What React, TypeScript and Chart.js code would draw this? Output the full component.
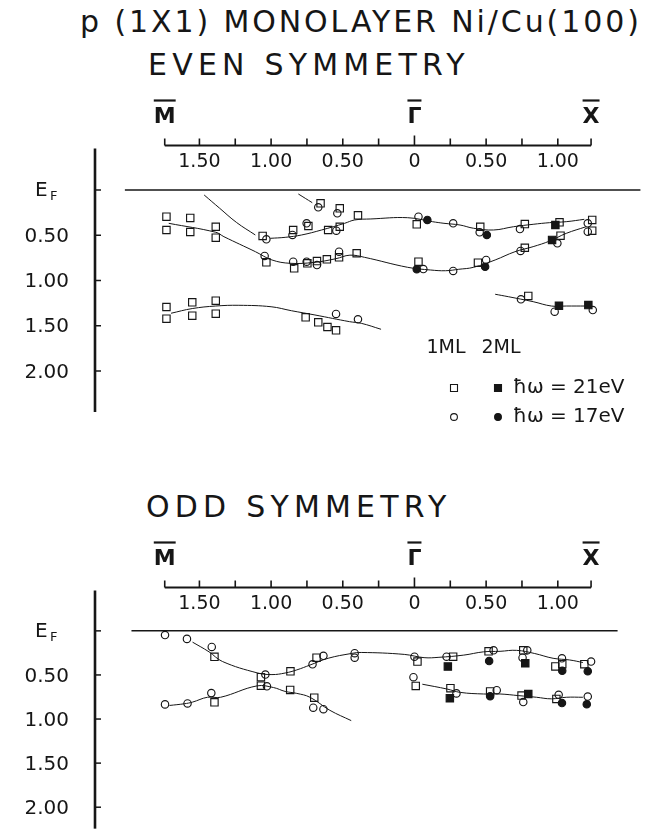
import React, { useEffect, useRef } from "react";
import { Chart, registerables } from "chart.js";

Chart.register(...registerables);

type Pt = [number, number];

// ---------- axes (k in 1/Å: negative toward M̄, positive toward X̄; E = binding energy below E_F, eV)
const K_MBAR = -1.742;
const K_XBAR = 1.232;
const K_TICKS = [-1.5, -1.25, -1.0, -0.75, -0.5, -0.25, 0, 0.25, 0.5, 0.75, 1.0];
const K_TICK_LABELS = [-1.5, -1.0, -0.5, 0, 0.5, 1.0];
const SYM_POINTS = [
  { k: K_MBAR, label: "M" },
  { k: 0, label: "Γ" },
  { k: K_XBAR, label: "X" },
];
const E_TICKS = [0, 0.5, 1.0, 1.5, 2.0];
const E_TICK_LABELS = ["E_F", "0.50", "1.00", "1.50", "2.00"];

const TITLE = "p (1X1) MONOLAYER Ni/Cu(100)";
const EVEN_TITLE = "EVEN SYMMETRY";
const ODD_TITLE = "ODD SYMMETRY";
const LEGEND_HEAD = ["1ML", "2ML"];
const LEGEND_ROWS = ["ħω = 21eV", "ħω = 17eV"];

// ---------- EVEN symmetry data  [k, E]
const EVEN_1ML_21: Pt[] = [
  [-1.73, 0.295], [-1.73, 0.442], [-1.564, 0.309], [-1.564, 0.464], [-1.386, 0.406], [-1.386, 0.527],
  [-1.059, 0.508], [-0.846, 0.442], [-0.74, 0.398], [-0.602, 0.442], [-0.521, 0.406], [-0.394, 0.28],
  [-0.655, 0.147], [-0.521, 0.202], [-1.033, 0.799], [-0.839, 0.865], [-0.747, 0.81], [-0.68, 0.785],
  [-0.611, 0.766], [-0.526, 0.744], [-0.403, 0.699], [-1.73, 1.293], [-1.73, 1.422], [-1.55, 1.241],
  [-1.55, 1.389], [-1.386, 1.223], [-1.386, 1.367], [-0.759, 1.407], [-0.671, 1.462], [-0.607, 1.514],
  [-0.547, 1.55], [0.016, 0.379], [0.459, 0.406], [0.77, 0.376], [1.012, 0.357], [1.24, 0.331],
  [1.24, 0.45], [0.028, 0.792], [0.443, 0.803], [0.77, 0.638], [1.019, 0.505], [0.794, 1.171],
];
const EVEN_1ML_17: Pt[] = [
  [-1.033, 0.545], [-0.851, 0.497], [-0.752, 0.368], [-0.545, 0.45], [-0.671, 0.191], [-0.538, 0.257],
  [-1.045, 0.729], [-0.846, 0.792], [-0.752, 0.792], [-0.68, 0.829], [-0.526, 0.682], [-0.547, 1.37],
  [-0.394, 1.429], [0.028, 0.295], [0.27, 0.368], [0.455, 0.467], [0.736, 0.431], [1.209, 0.368],
  [1.209, 0.461], [0.062, 0.873], [0.27, 0.895], [0.5, 0.773], [0.74, 0.674], [0.997, 0.589],
  [0.743, 1.208], [0.978, 1.345], [1.244, 1.326],
];
const EVEN_2ML_21: Pt[] = [[0.983, 0.387], [0.96, 0.552], [1.008, 1.278], [1.213, 1.271]];
const EVEN_2ML_17: Pt[] = [[0.09, 0.331], [0.505, 0.497], [0.016, 0.876], [0.493, 0.848]];

const EVEN_CURVES: Pt[][] = [
  [[-1.467, 0.055], [-1.36, 0.2], [-1.24, 0.36], [-1.11, 0.497]],
  [[-1.006, 0.534], [-0.902, 0.523], [-0.787, 0.497], [-0.648, 0.442], [-0.487, 0.368], [-0.417, 0.331],
   [-0.304, 0.32], [-0.048, 0.306], [0.125, 0.35], [0.206, 0.368], [0.318, 0.387], [0.413, 0.423],
   [0.552, 0.442], [0.69, 0.406], [0.828, 0.379], [0.943, 0.361], [1.059, 0.35], [1.185, 0.324]],
  [[-1.714, 0.368], [-1.386, 0.467], [-1.329, 0.516], [-1.109, 0.682], [-0.994, 0.773], [-0.867, 0.81],
   [-0.7, 0.8], [-0.55, 0.76], [-0.45, 0.72], [-0.348, 0.744], [-0.048, 0.854], [0.113, 0.884],
   [0.217, 0.892], [0.309, 0.876], [0.413, 0.854], [0.563, 0.773], [0.701, 0.682], [0.828, 0.626],
   [0.943, 0.564], [1.059, 0.479], [1.197, 0.406]],
  [[-0.81, 0.044], [-0.713, 0.14]],
  [[-1.698, 1.362], [-1.55, 1.31], [-1.386, 1.282], [-1.225, 1.274], [-1.0, 1.29], [-0.858, 1.334],
   [-0.694, 1.381], [-0.452, 1.455], [-0.371, 1.473], [-0.233, 1.539]],
  [[0.563, 1.152], [0.655, 1.179], [0.828, 1.234], [0.955, 1.282], [1.059, 1.282], [1.197, 1.282]],
];
const EVEN_EF: Pt[] = [[-2.02, 0], [1.578, 0]];

// ---------- ODD symmetry data  [k, E]
const ODD_1ML_21: Pt[] = [
  [-1.395, 0.294], [-1.071, 0.525], [-0.865, 0.459], [-0.683, 0.304], [-1.395, 0.811], [-1.071, 0.622],
  [-0.867, 0.67], [-0.699, 0.758], [0.021, 0.348], [0.27, 0.293], [0.517, 0.232], [0.759, 0.221],
  [0.983, 0.403], [1.031, 0.378], [1.185, 0.378], [0.009, 0.625], [0.251, 0.65], [0.528, 0.687],
  [0.747, 0.734], [0.99, 0.772],
];
const ODD_1ML_17: Pt[] = [
  [-1.74, 0.047], [-1.587, 0.091], [-1.414, 0.183], [-1.04, 0.496], [-0.711, 0.379], [-0.635, 0.283],
  [-0.417, 0.253], [-0.417, 0.304], [-1.74, 0.834], [-1.583, 0.823], [-1.417, 0.706], [-1.029, 0.629],
  [-0.706, 0.871], [-0.635, 0.889], [0.0, 0.293], [0.224, 0.293], [0.552, 0.221], [0.754, 0.304],
  [0.787, 0.221], [1.029, 0.311], [1.232, 0.348], [-0.007, 0.526], [0.293, 0.709], [0.574, 0.673],
  [0.759, 0.807], [1.006, 0.725], [1.209, 0.745],
];
const ODD_2ML_21: Pt[] = [[0.233, 0.404], [0.773, 0.368], [0.247, 0.764], [0.794, 0.716]];
const ODD_2ML_17: Pt[] = [[0.521, 0.342], [1.031, 0.452], [1.209, 0.458], [0.528, 0.742], [1.029, 0.819], [1.202, 0.833]];

const ODD_CURVES: Pt[][] = [
  [[-1.548, 0.128], [-1.433, 0.238], [-1.34, 0.347], [-1.098, 0.476], [-0.994, 0.496], [-0.902, 0.478],
   [-0.821, 0.443], [-0.729, 0.388], [-0.602, 0.311], [-0.441, 0.257], [-0.371, 0.245], [-0.071, 0.267],
   [0.067, 0.304], [0.171, 0.3], [0.344, 0.275], [0.482, 0.238], [0.597, 0.232], [0.713, 0.221],
   [0.839, 0.257], [0.967, 0.311], [1.082, 0.33], [1.175, 0.359]],
  [[-1.709, 0.846], [-1.606, 0.827], [-1.548, 0.808], [-1.444, 0.753], [-1.352, 0.753], [-1.098, 0.624],
   [-0.983, 0.643], [-0.902, 0.687], [-0.821, 0.709], [-0.729, 0.753], [-0.59, 0.901], [-0.441, 1.018]],
  [[0.055, 0.605], [0.228, 0.66], [0.32, 0.698], [0.482, 0.716], [0.597, 0.716], [0.724, 0.734],
   [0.851, 0.753], [0.955, 0.771], [1.059, 0.753], [1.175, 0.753]],
];
const ODD_EF: Pt[] = [[-1.974, 0], [1.417, 0]];

// ---------- styling / layout
const FONT = '"DejaVu Sans", sans-serif';
const INK = "#161616";
const W = 647;
const PAD_LEFT = 95;
const PAD_RIGHT = 2;
const PAD_TOP = 145.5;
const X_MIN = -2.2284;
const X_MAX = 1.5779;
const E_MIN = -0.4917;

const toXY = (d: Pt[]) => d.map(([x, y]) => ({ x, y }));

const markers = (d: Pt[], shape: "rect" | "circle", filled: boolean) => ({
  data: toXY(d),
  showLine: false,
  pointStyle: shape,
  pointRadius: shape === "rect" ? 5.2 : 3.7,
  pointBorderWidth: 1.15,
  pointBorderColor: INK,
  pointBackgroundColor: filled ? INK : "rgba(0,0,0,0)",
  borderColor: INK,
  order: 0,
});
const curve = (d: Pt[], width = 1, tension = 0.4) => ({
  data: toXY(d),
  showLine: true,
  pointRadius: 0,
  borderColor: INK,
  borderWidth: width,
  tension,
  fill: false,
  order: 5,
});

function drawMarker(ctx: CanvasRenderingContext2D, shape: string, filled: boolean, x: number, y: number) {
  ctx.beginPath();
  if (shape === "rect") ctx.rect(x - 3.5, y - 3.5, 7, 7);
  else ctx.arc(x, y, 3.4, 0, Math.PI * 2);
  if (filled) ctx.fill();
  ctx.stroke();
}

const framePlugin = {
  id: "frame",
  afterDatasetsDraw(chart: any, _a: any, opts: any) {
    const { ctx, chartArea: a, scales } = chart;
    const xs = scales.x;
    const ys = scales.y;
    ctx.save();
    ctx.strokeStyle = INK;
    ctx.fillStyle = INK;

    // k axis on top
    const yA = a.top;
    ctx.lineWidth = 2;
    ctx.beginPath();
    ctx.moveTo(xs.getPixelForValue(K_MBAR), yA);
    ctx.lineTo(xs.getPixelForValue(K_XBAR), yA);
    ctx.stroke();
    ctx.lineWidth = 1.6;
    [K_MBAR, ...K_TICKS, K_XBAR].forEach((k) => {
      const px = xs.getPixelForValue(k);
      const len = k === 0 ? 10 : 7;
      ctx.beginPath();
      ctx.moveTo(px, yA);
      ctx.lineTo(px, yA - len);
      ctx.stroke();
    });
    ctx.font = `19px ${FONT}`;
    ctx.textAlign = "center";
    ctx.textBaseline = "middle";
    K_TICK_LABELS.forEach((k) => {
      ctx.fillText(k === 0 ? "0" : Math.abs(k).toFixed(2), xs.getPixelForValue(k), yA + 17);
    });
    ctx.font = `bold 22px ${FONT}`;
    SYM_POINTS.forEach((p) => {
      const px = xs.getPixelForValue(p.k);
      const w = ctx.measureText(p.label).width;
      ctx.fillText(p.label, px, yA - 28);
      ctx.lineWidth = 2.2;
      ctx.beginPath();
      ctx.moveTo(px - w / 2, yA - 45);
      ctx.lineTo(px + w / 2, yA - 45);
      ctx.stroke();
    });

    // energy axis on the left
    const xA = a.left;
    ctx.lineWidth = 2.6;
    ctx.beginPath();
    ctx.moveTo(xA, yA + 3);
    ctx.lineTo(xA, a.bottom);
    ctx.stroke();
    ctx.lineWidth = 1.5;
    E_TICKS.forEach((e, i) => {
      const py = ys.getPixelForValue(e);
      ctx.beginPath();
      ctx.moveTo(xA, py);
      ctx.lineTo(xA + 6, py);
      ctx.stroke();
      const lab = E_TICK_LABELS[i];
      if (lab === "E_F") {
        ctx.font = `20px ${FONT}`;
        ctx.textAlign = "left";
        ctx.fillText("E", xA - 60, py + 1);
        ctx.font = `13px ${FONT}`;
        ctx.fillText("F", xA - 45, py + 7);
      } else {
        ctx.font = `20px ${FONT}`;
        ctx.textAlign = "right";
        ctx.fillText(lab, xA - 26, py + 1.5);
      }
    });

    // legend
    if (opts && opts.legend) {
      const L = opts.legend;
      ctx.font = `19px ${FONT}`;
      ctx.textAlign = "center";
      ctx.fillText(LEGEND_HEAD[0], L.c1, L.yHead);
      ctx.fillText(LEGEND_HEAD[1], L.c2, L.yHead);
      ctx.lineWidth = 1.1;
      const shapes = ["rect", "circle"];
      LEGEND_ROWS.forEach((t, i) => {
        const y = L.rows[i];
        drawMarker(ctx, shapes[i], false, L.m1, y);
        drawMarker(ctx, shapes[i], true, L.m2, y);
        ctx.font = `20px ${FONT}`;
        ctx.textAlign = "left";
        ctx.fillText(t, L.xText, y);
      });
    }
    ctx.restore();
  },
};

function Panel(props: { top: number; height: number; datasets: any[]; legend?: any }) {
  const ref = useRef<HTMLCanvasElement>(null);
  useEffect(() => {
    const plotBottom = props.legend ? 412 : props.height;
    const eMax = E_MIN + (plotBottom - PAD_TOP) / 90.5;
    const chart = new Chart(ref.current as HTMLCanvasElement, {
      type: "scatter",
      data: { datasets: props.datasets },
      options: {
        responsive: false,
        animation: false,
        events: [],
        layout: { padding: { left: PAD_LEFT, right: PAD_RIGHT, top: PAD_TOP, bottom: props.height - plotBottom } },
        scales: {
          x: { type: "linear", display: false, min: X_MIN, max: X_MAX },
          y: { type: "linear", display: false, reverse: true, min: E_MIN, max: eMax },
        },
        plugins: {
          legend: { display: false },
          tooltip: { enabled: false },
          frame: { legend: props.legend },
        } as any,
      },
      plugins: [framePlugin as any],
    });
    return () => chart.destroy();
  }, []);
  return (
    <canvas
      ref={ref}
      width={W}
      height={props.height}
      style={{ position: "absolute", left: 0, top: props.top, width: W, height: props.height }}
    />
  );
}

const titleStyle = (left: number, top: number, spacing: number): React.CSSProperties => ({
  position: "absolute",
  left,
  top,
  fontFamily: FONT,
  fontSize: 30,
  lineHeight: "30px",
  letterSpacing: spacing,
  color: INK,
  whiteSpace: "nowrap",
});

export default function App() {
  const evenSets = [
    markers(EVEN_1ML_21, "rect", false),
    markers(EVEN_1ML_17, "circle", false),
    markers(EVEN_2ML_21, "rect", true),
    markers(EVEN_2ML_17, "circle", true),
    ...EVEN_CURVES.map((c) => curve(c)),
    curve(EVEN_EF, 1.5, 0),
  ];
  const oddSets = [
    markers(ODD_1ML_21, "rect", false),
    markers(ODD_1ML_17, "circle", false),
    markers(ODD_2ML_21, "rect", true),
    markers(ODD_2ML_17, "circle", true),
    ...ODD_CURVES.map((c) => curve(c)),
    curve(ODD_EF, 1.5, 0),
  ];
  return (
    <div style={{ position: "absolute", left: 0, top: 0, width: W, height: 835, background: "#fff", overflow: "hidden" }}>
      <div style={titleStyle(80, 7, 2.9)}>{TITLE}</div>
      <div style={titleStyle(148, 50, 5.2)}>{EVEN_TITLE}</div>
      <div style={titleStyle(146, 492, 5.2)}>{ODD_TITLE}</div>
      <Panel
        top={0}
        height={440}
        datasets={evenSets}
        legend={{ c1: 446, c2: 501, yHead: 348, rows: [388, 417], m1: 454, m2: 498, xText: 513 }}
      />
      <Panel top={442} height={393} datasets={oddSets} />
    </div>
  );
}
